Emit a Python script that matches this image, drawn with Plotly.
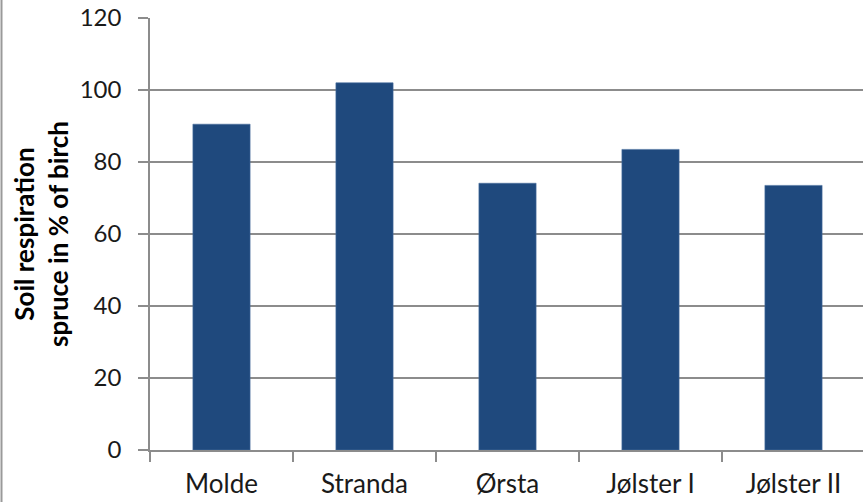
import plotly.graph_objects as go

sites = ["Molde", "Stranda", "Ørsta", "Jølster I", "Jølster II"]
resp_pct = [90.5, 102.0, 74.1, 83.5, 73.5]
y_ticks = [0, 20, 40, 60, 80, 100, 120]

W, H = 863, 502
L, R, T, B = 150, 0, 18, 52
plot_w = W - L - R

FONT = "Lato, 'Open Sans', sans-serif"
GRID = "#8c8c8c"

fig = go.Figure(go.Bar(
    x=sites, y=resp_pct,
    marker=dict(color="#1f497d", line=dict(color="#4a6f9e", width=0.6)),
    width=0.4,
))

fig.update_layout(
    width=W, height=H,
    margin=dict(l=L, r=R, t=T, b=B),
    paper_bgcolor="white", plot_bgcolor="white",
    showlegend=False,
    font=dict(family=FONT, color="#1a1a1a"),
)
fig.update_xaxes(
    range=[-0.5, 4.486],
    showline=True, linecolor=GRID, linewidth=1.5,
    ticks="outside", ticklen=10, tickcolor=GRID, tickwidth=1.5,
    tickson="boundaries",
    tickfont=dict(size=26, family=FONT, color="#1a1a1a"),
    ticklabelstandoff=10,
    showgrid=False,
)
fig.update_yaxes(
    range=[0, 120], tickvals=y_ticks,
    showline=True, linecolor=GRID, linewidth=1.5,
    ticks="outside", ticklen=10, tickcolor=GRID, tickwidth=1.5,
    tickfont=dict(size=24, family=FONT, color="#1a1a1a"),
    ticklabelstandoff=12,
    showgrid=True, gridcolor=GRID, gridwidth=1.5,
    zeroline=False,
)

fig.add_annotation(
    text="<b>Soil respiration<br>spruce in % of birch</b>",
    xref="paper", yref="paper",
    x=(41 - L) / plot_w, y=(450 - 234) / 432,
    xanchor="center", yanchor="middle",
    textangle=-90, showarrow=False,
    font=dict(size=26, family=FONT, color="#000000"),
)

fig.add_shape(
    type="line", xref="paper", yref="paper",
    x0=(1.5 - L) / plot_w, x1=(1.5 - L) / plot_w,
    y0=-2, y1=2,
    line=dict(color="#9a9a9a", width=2),
)

fig.write_html("out.html")
